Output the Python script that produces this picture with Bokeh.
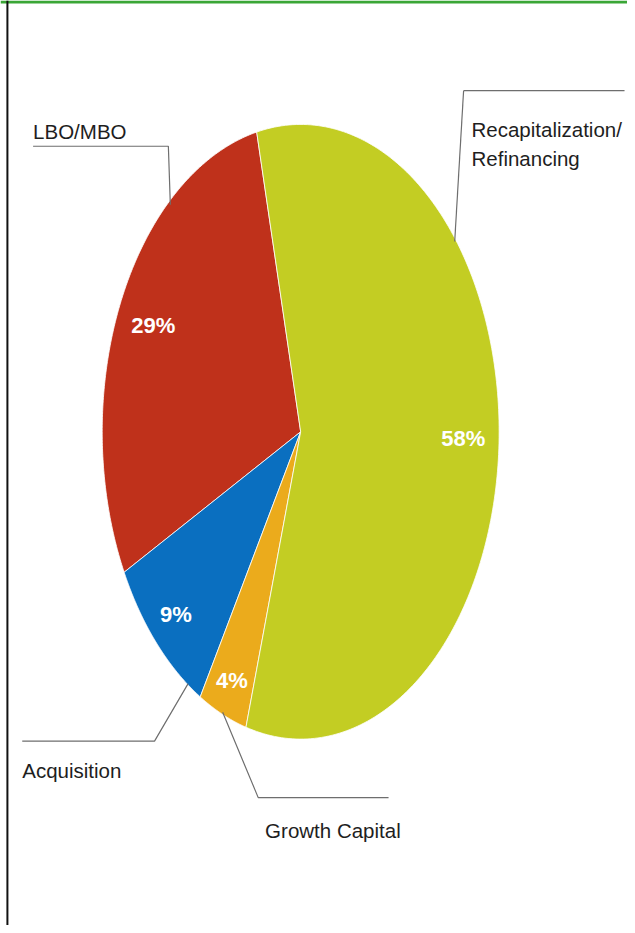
import numpy as np
from bokeh.plotting import figure
from bokeh.models import Range1d, Span
from bokeh.core.properties import value
from bokeh.embed import file_html
from bokeh.resources import INLINE

# ---- data (counter-clockwise order starting at the top boundary) ----
categories = ["LBO/MBO", "Acquisition", "Growth Capital", "Recapitalization/Refinancing"]
shares = [29, 9, 4, 58]
pct_labels = ["29%", "9%", "4%", "58%"]
colors = ["#BF311B", "#0A6FC0", "#EBAB1C", "#C3CD23"]

# ---- layout (reference pixel space) ----
W, H = 635, 933
CX, CY, RX, RY = 304, 435, 201, 310
START_DEG = 102.8          # math angle (ccw from +x, y up) of first boundary
LABEL_R = [0.82, 0.865, 0.88, 0.82]
FONT = "Liberation Sans"

p = figure(width=W - 8, height=H - 8, output_backend="svg", toolbar_location=None,
           x_range=Range1d(0, W), y_range=Range1d(H, 0), min_border=0,
           outline_line_color=None, background_fill_color="white")
p.axis.visible = False
p.xgrid.visible = False
p.ygrid.visible = False

vals = np.array(shares, dtype=float)
fr = vals / vals.sum()
cum = np.concatenate([[0], np.cumsum(fr)])
xs, ys, lx, ly = [], [], [], []
for i in range(len(vals)):
    a0 = np.radians(START_DEG + 360 * cum[i])
    a1 = np.radians(START_DEG + 360 * cum[i + 1])
    t = np.linspace(a0, a1, 200)
    xs.append([CX] + list(CX + RX * np.cos(t)) + [CX])
    ys.append([CY] + list(CY - RY * np.sin(t)) + [CY])
    am = (a0 + a1) / 2
    lx.append(CX + LABEL_R[i] * RX * np.cos(am))
    ly.append(CY - LABEL_R[i] * RY * np.sin(am))

p.patches(xs=xs, ys=ys, fill_color=colors, line_color="white", line_width=0.8)

p.text(x=lx, y=ly, text=pct_labels, text_color="white", text_font=value(FONT),
       text_font_style="bold", text_font_size="22px", text_align="center",
       text_baseline="middle")

# leader lines
leader_x = [[33, 170, 172], [469, 632], [469, 460], [22, 156, 190], [225, 261, 393]]
leader_y = [[147, 147, 206], [91, 91], [91, 243], [747, 747, 689], [718, 804, 804]]
p.multi_line(xs=leader_x, ys=leader_y, line_color="#6E6E6E", line_width=1.2)

# category labels
cat_text = ["LBO/MBO", "Recapitalization/", "Refinancing", "Acquisition", "Growth Capital"]
cat_x = [33, 477, 477, 22, 268]
cat_y = [132, 130, 159, 777, 837]
p.text(x=cat_x, y=cat_y, text=cat_text, text_color="#1E1E1E", text_font=value(FONT),
       text_font_size="20.5px", text_align="left", text_baseline="alphabetic")

# frame lines
p.add_layout(Span(location=1.5, dimension="width", line_color="#3AA636", line_width=3))
p.add_layout(Span(location=7, dimension="height", line_color="#111111", line_width=2))

open("out.html", "w").write(file_html(p, INLINE))
